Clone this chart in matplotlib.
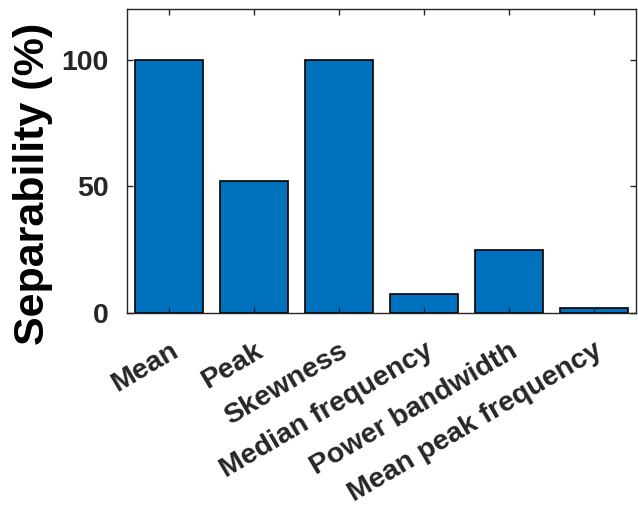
import matplotlib.pyplot as plt
import numpy as np

features = ["Mean", "Peak", "Skewness", "Median frequency",
            "Power bandwidth", "Mean peak frequency"]
separability = [100, 52, 100, 7.5, 25, 2]

plt.rcParams['font.family'] = ['Liberation Sans', 'DejaVu Sans']
plt.rcParams['font.weight'] = 'bold'

fig = plt.figure(figsize=(6.38, 5.13), dpi=100)
ax = fig.add_axes([0.199, 0.39, 0.798, 0.592])

x = np.arange(1, len(features) + 1)
ax.bar(x, separability, width=0.8, color='#0072BD', edgecolor='black', linewidth=1.2)

ax.set_xlim(0.5, len(features) + 0.5)
ax.set_ylim(0, 120)
ax.set_yticks([0, 50, 100])
ax.set_xticks(x)
ax.set_xticklabels(features, rotation=30.5, ha='right', rotation_mode='anchor',
                   fontsize=20.5, fontweight='bold', color='#262626')
ax.tick_params(axis='x', pad=18)
ax.tick_params(axis='y', labelsize=20.5, labelcolor='#262626', pad=13)
ax.tick_params(direction='in', top=True, right=True, length=4, width=1, color='#262626')
ax.set_ylabel("Separability (%)", fontsize=31, fontweight='bold')
ax.yaxis.set_label_coords(-0.145, 0.424)

for s in ax.spines.values():
    s.set_color('#262626')
    s.set_linewidth(1)

fig.savefig("out.png", dpi=100)
